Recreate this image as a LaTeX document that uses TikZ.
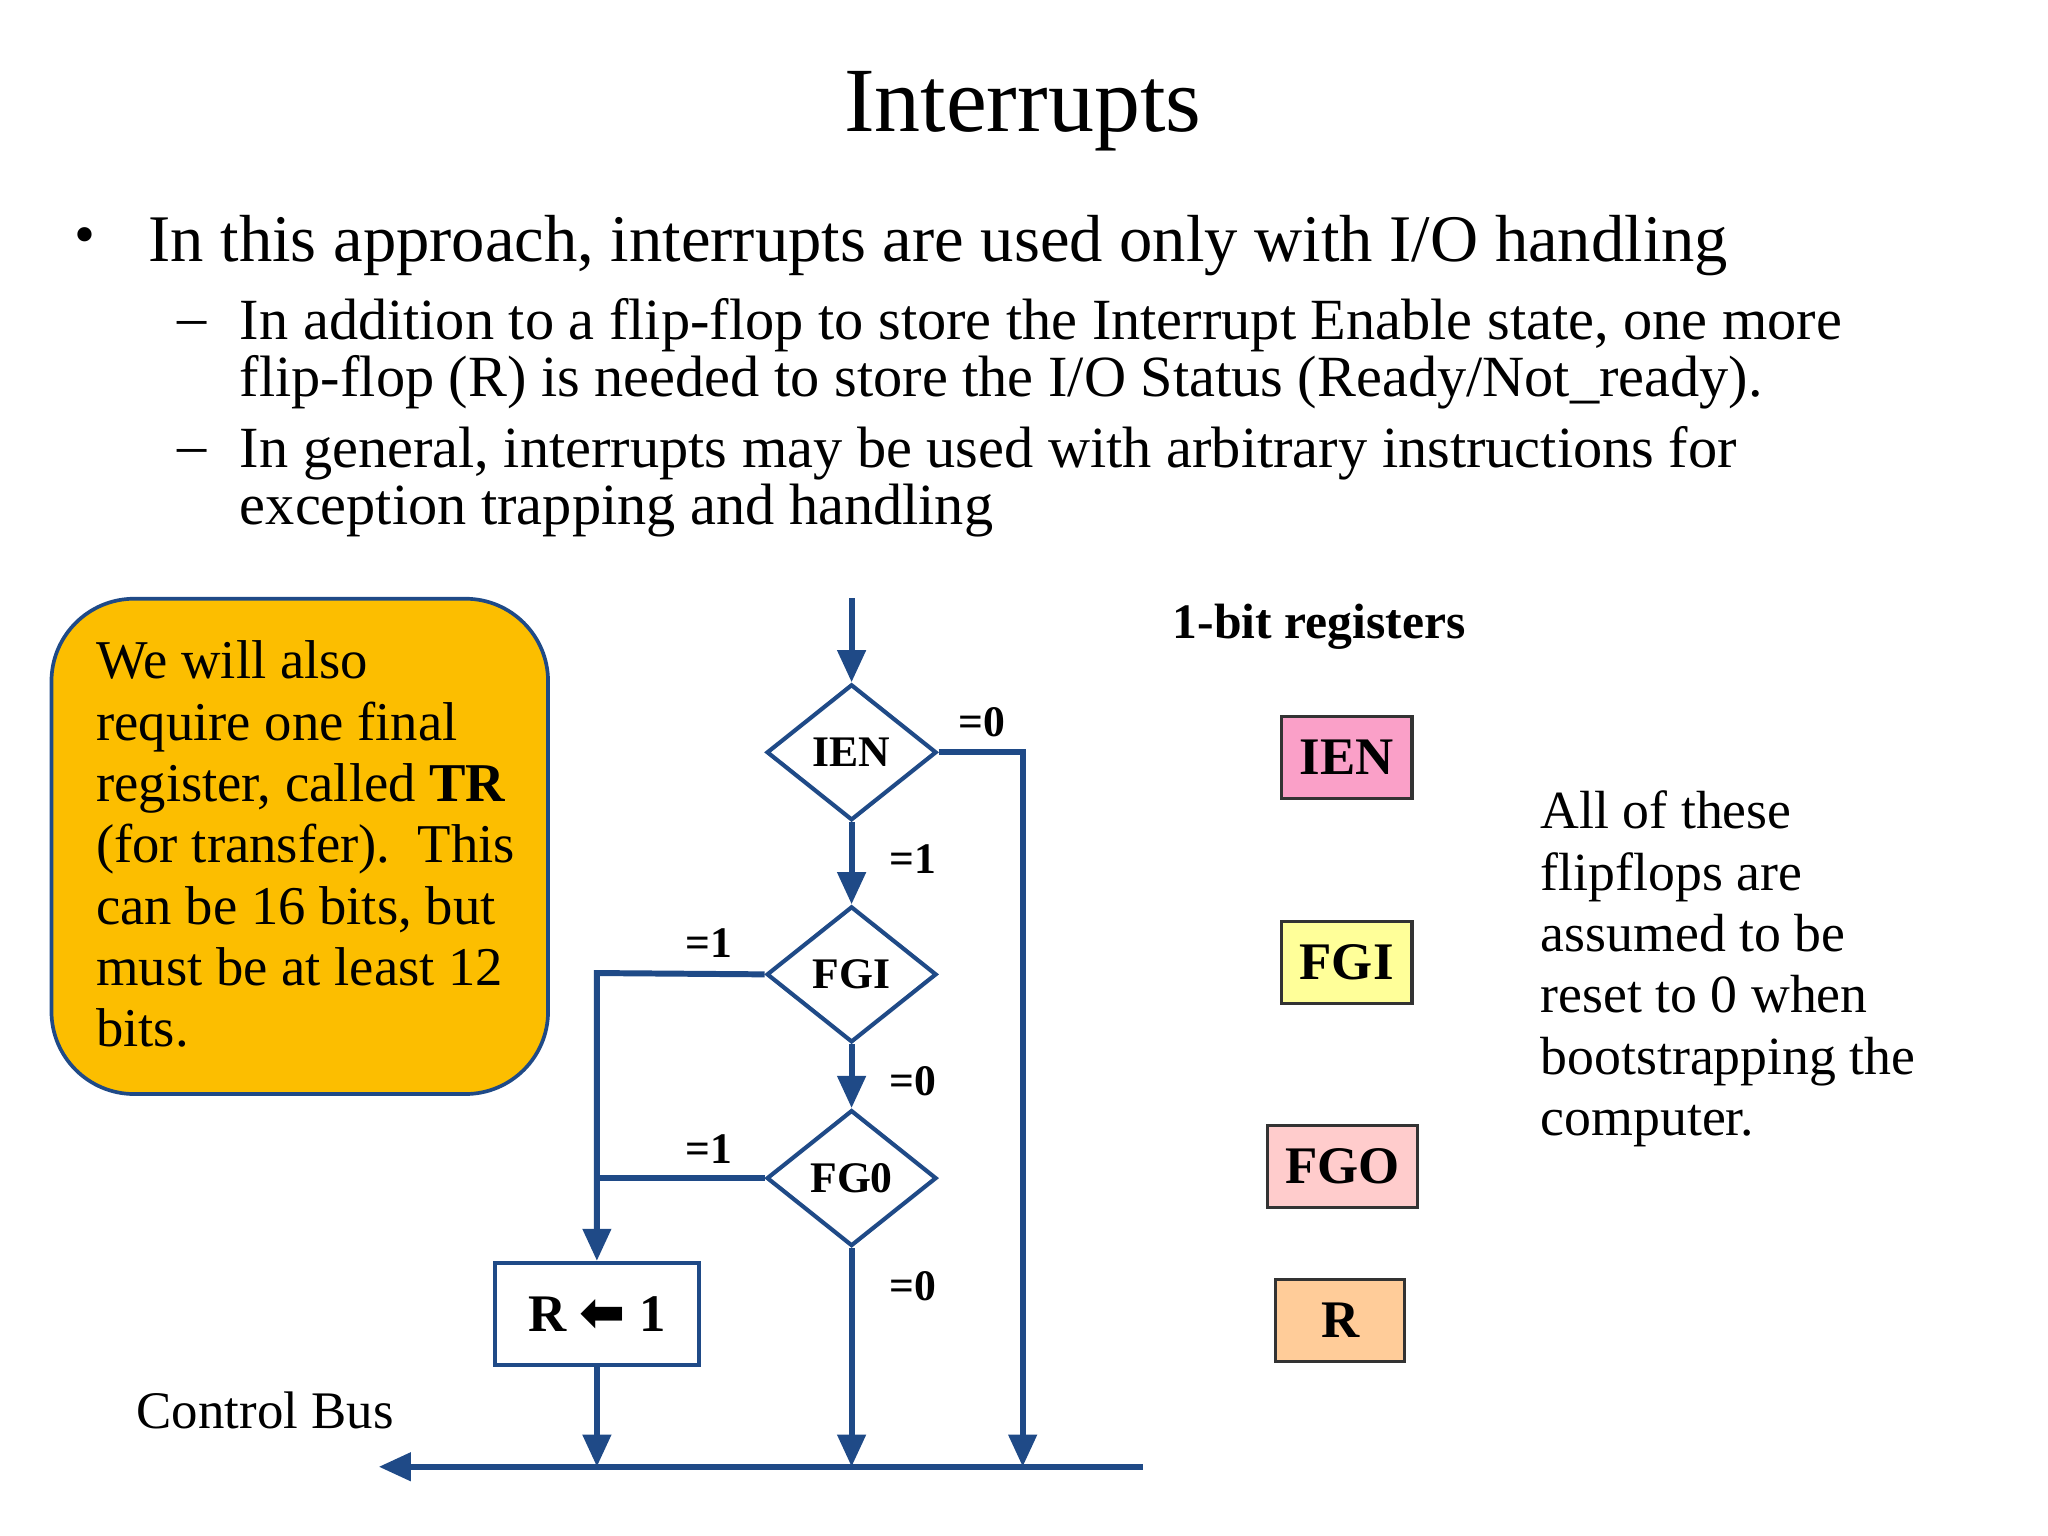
\documentclass[tikz,border=0pt]{standalone}
\usepackage{fontspec}
\setmainfont{Liberation Serif}
\newfontfamily\djv{DejaVu Sans}
\usetikzlibrary{arrows.meta,shapes.geometric}
\definecolor{ln}{HTML}{1F4A87}
\begin{document}
\begin{tikzpicture}[x=0.01cm,y=-0.01cm,
  fl/.style={draw=ln,line width=1.3pt},
  ar/.style={fl,-{Triangle[width=6pt,length=7pt]}},
  dia/.style={draw=ln,line width=0.9pt,fill=white,diamond,minimum width=1.3cm,minimum height=1.04cm,inner sep=0},
  lab/.style={font=\fontsize{9.5}{11}\selectfont\bfseries},
  reg/.style={draw=black!80,line width=0.7pt,font=\fontsize{11.5}{13}\selectfont\bfseries,minimum height=0.63cm},
  tx/.style={anchor=base west,align=left,inner sep=0}]
\useasboundingbox (0,0) rectangle (1568,1176);
\node[font=\fontsize{20}{24}\selectfont] (title) at (783,85) {Interrupts};
\node[anchor=base,font=\fontsize{13}{15}\selectfont] (b1) at (65,195) {•};
\node[tx,font=\fontsize{14.5}{17}\selectfont] (t1) at (113,200) {In this approach, interrupts are used only with I/O handling};
\node[anchor=base,font=\fontsize{12.7}{14}\selectfont] (d1) at (147,258) {–};
\node[anchor=north west,align=left,inner sep=0,font=\fontsize{12.7}{12.4}\selectfont] (t2) at (183,228) {In addition to a flip-flop to store the Interrupt Enable state, one more\\flip-flop (R) is needed to store the I/O Status (Ready/Not\_ready).};
\node[anchor=base,font=\fontsize{12.7}{14}\selectfont] (d2) at (147,356) {–};
\node[anchor=north west,align=left,inner sep=0,font=\fontsize{12.7}{12.4}\selectfont] (t3) at (183,326) {In general, interrupts may be used with arbitrary instructions for\\exception trapping and handling};
% yellow box
\node[draw=ln,line width=0.8pt,fill={rgb,255:red,252;green,190;blue,0},rounded corners=18pt,minimum width=3.8cm,minimum height=3.79cm,anchor=north west] (yb) at (38,457) {};
\node[anchor=north west,align=left,inner sep=0,font=\fontsize{11.9}{13.35}\selectfont] (ybt) at (73,490) {We will also\\require one final\\register, called \textbf{TR}\\(for transfer).\ \ This\\can be 16 bits, but\\must be at least 12\\bits.};
% flowchart
\coordinate (top) at (652,458);
\node[dia] (ien) at (652,576) {};
\node[lab] at (ien) {IEN};
\node[dia] (fgi) at (652,746) {};
\node[lab] at (fgi) {FGI};
\node[dia] (fgo) at (652,902) {};
\node[lab] at (fgo) {FG0};
\node[draw=ln,line width=0.9pt,minimum width=1.56cm,minimum height=0.78cm,font=\fontsize{11.5}{13}\selectfont\bfseries] (rb) at (457,1006) {R {\djv\fontsize{12}{13}\selectfont ⬅} 1};
\coordinate (busR) at (875,1123);
\coordinate (busL) at (290,1123);
\coordinate (b1c) at (457,1123);
\coordinate (b2c) at (652,1123);
\coordinate (b3c) at (783,1123);
\coordinate (c1) at (783,576);
\coordinate (c2) at (457,745);
\coordinate (c3) at (457,902);
\draw[ar] (top) -- (ien.north);
\draw[ar] (ien.south) -- (fgi.north);
\draw[ar] (fgi.south) -- (fgo.north);
\draw[ar] (fgo.south) -- (b2c);
\draw[ar] (ien.east) -- (c1) -- (b3c);
\draw[ar] (fgi.west) -- (c2) -- (rb.north);
\draw[fl] (fgo.west) -- (c3);
\draw[ar] (rb.south) -- (b1c);
\draw[ar] (busR) -- (busL);
\node[lab] at (752,553) {=0};
\node[lab] at (699,658) {=1};
\node[lab] at (543,722) {=1};
\node[lab] at (699,828) {=0};
\node[lab] at (543,880) {=1};
\node[lab] at (699,985) {=0};
\node[font=\fontsize{11.5}{12}\selectfont] (cb) at (203,1080) {Control Bus};
% registers
\node[font=\fontsize{10.8}{12}\selectfont\bfseries] (rt) at (1010,480) {1-bit registers};
\node[reg,fill={rgb,255:red,250;green,160;blue,200},minimum width=1cm] (r1) at (1031,580) {IEN};
\node[reg,fill={rgb,255:red,255;green,255;blue,153},minimum width=1cm] (r2) at (1031,737) {FGI};
\node[reg,fill={rgb,255:red,255;green,204;blue,204},minimum width=1.15cm] (r3) at (1028,893) {FGO};
\node[reg,fill={rgb,255:red,255;green,204;blue,153},minimum width=0.99cm] (r4) at (1026,1011) {R};
\node[anchor=north west,align=left,inner sep=0,font=\fontsize{11.7}{13.35}\selectfont] (rtx) at (1179,605) {All of these\\flipflops are\\assumed to be\\reset to 0 when\\bootstrapping the\\computer.};
\end{tikzpicture}
\end{document}
